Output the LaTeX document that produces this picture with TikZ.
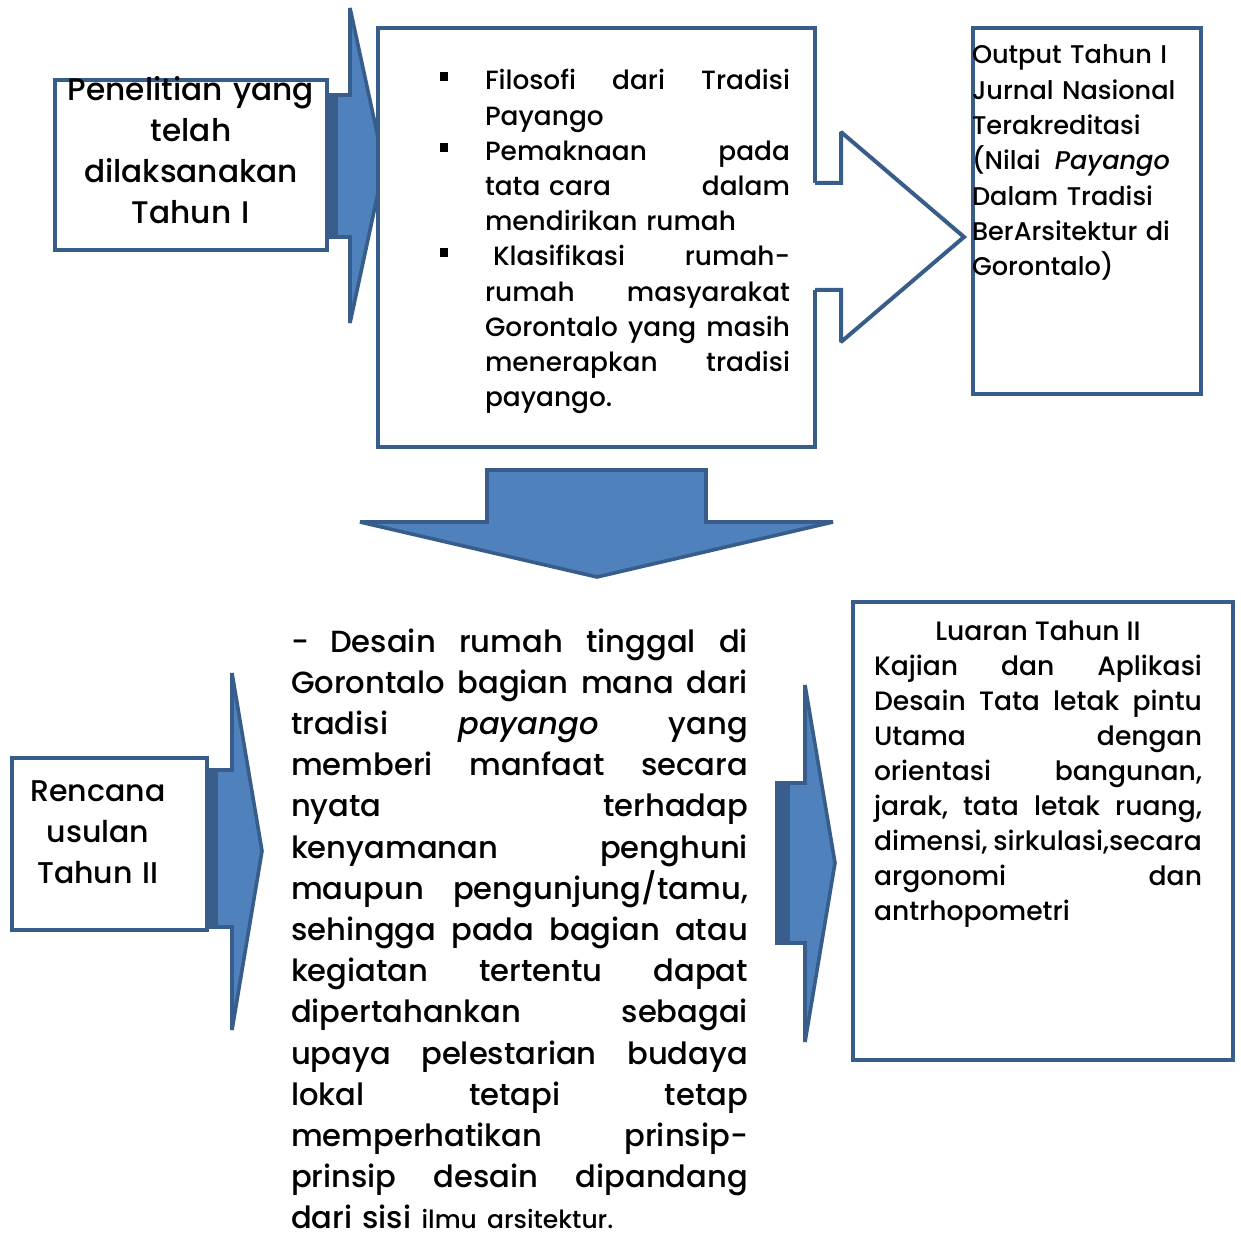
\documentclass[tikz,border=0pt]{standalone}
\usepackage{fontspec}
\setmainfont{Poppins}[UprightFont={Poppins Medium},ItalicFont={Poppins Medium Italic}]
\definecolor{arrfill}{HTML}{4F81BD}
\definecolor{edge}{HTML}{385D8A}
\definecolor{strip}{HTML}{3A5E8C}
\newlength\jlw
\tikzset{
  box/.style={draw=edge, line width=2pt, fill=white},
  bluearrow/.style={draw=edge, line width=1.8pt, fill=arrfill, line join=miter, miter limit=2},
  shadowstrip/.style={fill=strip, draw=none},
  outlinearrow/.style={draw=edge, line width=2pt, line join=miter, miter limit=2},
  txt/.style={inner sep=0pt, outer sep=0pt, anchor=base west, align=left},
  ctxt/.style={inner sep=0pt, outer sep=0pt, anchor=base, align=center},
  bulletmark/.style={fill=black, draw=none, inner sep=0pt, minimum width=4pt, minimum height=4.5pt},
  jw/.style={text width=#1, execute at begin node={\setlength{\jlw}{#1}}},
}
% justified line: words separated by \hf
\newcommand\jl[1]{\makebox[\jlw][l]{#1}}
\newcommand\hf{\hspace{0pt plus 1fill}}
\begin{document}
\begin{tikzpicture}[x=0.5pt,y=-0.5pt]
\useasboundingbox (0,0) rectangle (1241,1235);

% ---- top-left arrow (behind boxes)
\draw[bluearrow] (315,95) -- (350,95) -- (350,8) -- (384,165) -- (350,323) -- (350,237) -- (315,237) -- cycle;
\draw[box] (55,80) rectangle (327,250);
\fill[shadowstrip] (328,96) rectangle (338,236);
\node[ctxt, text width=150pt, font=\fontsize{15.6pt}{20.35pt}\selectfont] (t1) at (191,101)
  {Penelitian yang\\ telah\\ dilaksanakan\\ Tahun I};

% ---- middle box
\draw[box] (378,28) rectangle (815,447);
\node[bulletmark] (bu1) at (444,77) {};
\node[bulletmark] (bu2) at (444,147.5) {};
\node[bulletmark] (bu3) at (444,253) {};
\node[txt, jw=152.5pt, font=\fontsize{13.2pt}{17.6pt}\selectfont] (t2) at (485,90)
  {\jl{Filosofi\hf dari\hf Tradisi}\\
   Payango\\
   \jl{Pemaknaan\hf pada}\\
   \jl{tata cara\hf dalam}\\
   mendirikan rumah\\
   \jl{\hspace{4pt}Klasifikasi\hf rumah-}\\
   \jl{rumah\hf masyarakat}\\
   \jl{Gorontalo\hf yang\hf masih}\\
   \jl{menerapkan\hf tradisi}\\
   payango.};

% ---- outline arrow to the right
\fill[white] (811,183) -- (841,183) -- (841,132) -- (964,237) -- (841,342) -- (841,290) -- (811,290) -- cycle;
\draw[outlinearrow] (815,183) -- (841,183) -- (841,132) -- (964,237) -- (841,342) -- (841,290) -- (815,290);

% ---- top-right box
\draw[box] (973,28) rectangle (1201,394);
\node[txt, text width=118pt, font=\fontsize{12.8pt}{17.65pt}\selectfont] (t3) at (972,64)
  {Output Tahun I\\
   Jurnal Nasional\\
   Terakreditasi\\
   (Nilai\hspace{0.55em}\textit{Payango}\\
   Dalam Tradisi\\
   BerArsitektur di\\
   Gorontalo)};

% ---- down arrow
\draw[bluearrow] (487,470) -- (706,470) -- (706,522) -- (833,522) -- (597,577) -- (360,522) -- (487,522) -- cycle;

% ---- bottom-left
\draw[bluearrow] (200,770) -- (232,770) -- (232,673) -- (262,851) -- (232,1030) -- (232,927) -- (200,927) -- cycle;
\draw[box] (12,758) rectangle (207,930);
\fill[shadowstrip] (208,771) rectangle (218,926);
\node[ctxt, text width=95pt, font=\fontsize{15pt}{20.5pt}\selectfont] (t4) at (98,801)
  {Rencana\\ usulan\\ Tahun II};

% ---- bottom middle text
\node[txt, jw=228.5pt, font=\fontsize{15.3pt}{20.6pt}\selectfont] (t5) at (291,652)
  {\jl{-\hspace{0.7em}Desain\hf rumah\hf tinggal\hf di}\\
   \jl{Gorontalo\hf bagian\hf mana\hf dari}\\
   \jl{tradisi\hf \textit{payango}\hf yang}\\
   \jl{memberi\hf manfaat\hf secara}\\
   \jl{nyata\hf terhadap}\\
   \jl{kenyamanan\hf penghuni}\\
   \jl{maupun\hf pengunjung/tamu,}\\
   \jl{sehingga\hf pada\hf bagian\hf atau}\\
   \jl{kegiatan\hf tertentu\hf dapat}\\
   \jl{dipertahankan\hf sebagai}\\
   \jl{upaya\hf pelestarian\hf budaya}\\
   \jl{lokal\hf tetapi\hf tetap}\\
   \jl{memperhatikan\hf prinsip-}\\
   \jl{prinsip\hf desain\hf dipandang}\\
   dari sisi {\fontsize{12.5pt}{15pt}\selectfont ilmu arsitektur.}};

% ---- bottom-right arrow and box
\draw[bluearrow] (777,783) -- (805,783) -- (805,685) -- (835,863) -- (805,1042) -- (805,943) -- (777,943) -- cycle;
\fill[shadowstrip] (777,784) rectangle (790,942);
\draw[box] (853,602) rectangle (1233,1060);
\node[ctxt, font=\fontsize{13.3pt}{17.55pt}\selectfont] (t6) at (1038,640) {Luaran Tahun II};
\node[txt, jw=164pt, font=\fontsize{13.3pt}{17.55pt}\selectfont] (t7) at (874,675)
  {\jl{Kajian\hf dan\hf Aplikasi}\\
   \jl{Desain\hf Tata\hf letak\hf pintu}\\
   \jl{Utama\hf dengan}\\
   \jl{orientasi\hf bangunan,}\\
   \jl{jarak,\hf tata\hf letak\hf ruang,}\\
   \jl{dimensi,\hf sirkulasi,secara}\\
   \jl{argonomi\hf dan}\\
   antrhopometri};
\end{tikzpicture}
\end{document}
